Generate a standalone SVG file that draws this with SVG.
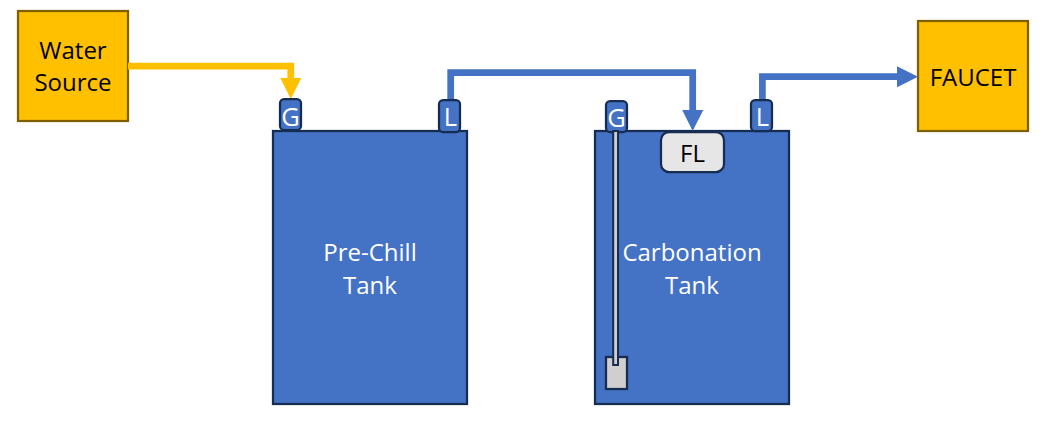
<svg xmlns="http://www.w3.org/2000/svg" width="1050" height="422" viewBox="0 0 1050 422">
<defs>
<marker id="ay" markerUnits="userSpaceOnUse" markerWidth="22" markerHeight="22" refX="1" refY="10.5" orient="auto"><path d="M0 0L21 10.500L0 21Z" fill="#ffc000"/></marker>
<marker id="ab" markerUnits="userSpaceOnUse" markerWidth="22" markerHeight="22" refX="1" refY="10.5" orient="auto"><path d="M0 0L21 10.500L0 21Z" fill="#4472c4"/></marker>
</defs>
<style>
text{font-family:"Open Sans","Noto Sans","Liberation Sans",sans-serif;font-size:24px;text-anchor:middle}
.w{fill:#fff}.k{fill:#000}
.port text{font-size:25.5px}
.tank{fill:#4472c4;stroke:#172c51;stroke-width:2.25}
.port rect{fill:#4472c4;stroke:#172c51;stroke-width:2.25}
.src{fill:#ffc000;stroke:#7f6000;stroke-width:2.25}
.pipe{fill:none;stroke:#4472c4;stroke-width:6.75}
</style>
<g id="pre-chill-tank"><rect class="tank" x="273" y="131" width="194" height="273"/><text class="w" x="370" y="261">Pre-Chill</text><text class="w" x="370" y="294">Tank</text></g>
<g id="carbonation-tank"><rect class="tank" x="595" y="131" width="194" height="273"/><text class="w" x="692" y="261">Carbonation</text><text class="w" x="692" y="294">Tank</text></g>
<g id="water-source"><rect class="src" x="18" y="11" width="110" height="110"/><text class="k" x="73" y="59">Water</text><text class="k" x="73" y="91">Source</text></g>
<g id="faucet"><rect class="src" x="918" y="21" width="110" height="110"/><text class="k" x="973" y="86">FAUCET</text></g>
<g id="connectors">
<path d="M128 66H290.800V79" fill="none" stroke="#ffc000" stroke-width="6.75" marker-end="url(#ay)"/>
<path class="pipe" d="M450.700 100V72.700H692.700V111" marker-end="url(#ab)"/>
<path class="pipe" d="M762.400 100V76.700H898" marker-end="url(#ab)"/>
</g>
<g id="port-g1" class="port"><rect x="280" y="99" width="21" height="31" rx="4"/><text class="w" x="290.500" y="125.500">G</text></g>
<g id="port-l1" class="port"><rect x="439" y="100" width="21" height="32" rx="4"/><text class="w" x="450.500" y="126">L</text></g>
<g id="port-g2" class="port"><rect x="606" y="101" width="21" height="31" rx="4"/><text class="w" x="616.500" y="127">G</text></g>
<g id="port-l2" class="port"><rect x="751" y="100" width="21" height="31" rx="4"/><text class="w" x="762.500" y="126">L</text></g>
<g id="diffuser"><rect x="606" y="357" width="21" height="32" fill="#d0cece" stroke="#172c51" stroke-width="2.25"/><rect x="613.200" y="131" width="4.800" height="234" fill="#d0cece" stroke="#172c51" stroke-width="2"/></g>
<g id="float-fl"><rect x="661" y="132" width="63" height="40" rx="8" fill="#e7e6e6" stroke="#172c51" stroke-width="2.25"/><text class="k" x="692.500" y="161.500">FL</text></g>
</svg>
